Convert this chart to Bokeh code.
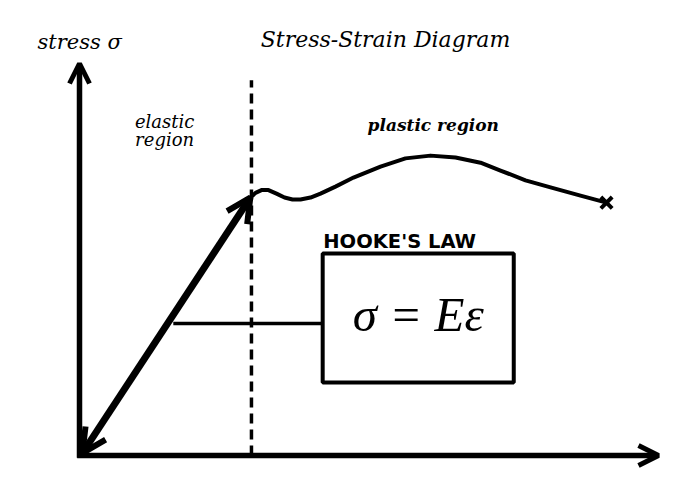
from bokeh.plotting import figure
from bokeh.models import Range1d, Arrow, OpenHead
from bokeh.core.properties import value
from bokeh.embed import file_html
from bokeh.resources import INLINE

# ---- data (strain / stress in arbitrary units) ----
axis_max_strain = 10.0
axis_max_stress = 10.0

elastic_strain = [0.05, 2.95]
elastic_stress = [0.06, 6.58]

plastic_strain = [2.953, 3.040, 3.143, 3.264, 3.402, 3.541, 3.679, 3.817, 3.990,
                  4.162, 4.421, 4.732, 5.199, 5.630, 6.062, 6.494, 6.926, 7.271,
                  7.703, 8.135, 8.653, 9.102]
plastic_stress = [6.58, 6.70, 6.77, 6.77, 6.68, 6.58, 6.53, 6.53, 6.58,
                  6.68, 6.86, 7.09, 7.37, 7.58, 7.65, 7.60, 7.47, 7.27,
                  7.02, 6.84, 6.63, 6.45]

fracture_strain = [9.102]
fracture_stress = [6.45]

yield_strain = 2.97
yield_line_stress = [0.0, 9.57]

connector_strain = [1.62, 4.20]
connector_stress = [3.37, 3.37]

box_left, box_right, box_bottom, box_top = [4.20], [7.50], [1.862], [5.153]

equation_text = ["σ = Eε"]
box_label = ["HOOKE'S LAW"]
title_text = ["Stress-Strain Diagram"]
ylabel_text = ["stress σ"]
elastic_label = ["elastic\nregion"]
plastic_label = ["plastic region"]

# ---- figure: 682x484, 57.9 px per strain unit, 39.2 px per stress unit ----
p = figure(width=682, height=484, output_backend="svg", toolbar_location=None,
           x_axis_location=None, y_axis_location=None, min_border=0,
           x_range=Range1d(-79 / 57.9, 603 / 57.9),
           y_range=Range1d(-29 / 39.2, 455 / 39.2))
p.grid.visible = False
p.outline_line_color = None
p.background_fill_color = "white"
p.border_fill_color = "white"

# axes with arrows
p.add_layout(Arrow(x_start=0, y_start=-0.06, x_end=0, y_end=axis_max_stress,
                   line_width=5.5, line_color="black",
                   end=OpenHead(size=20, line_width=5, line_color="black")))
p.add_layout(Arrow(x_start=-0.04, y_start=0, x_end=axis_max_strain, y_end=0,
                   line_width=5.5, line_color="black",
                   end=OpenHead(size=20, line_width=5, line_color="black")))

# yield dashed line
p.line([yield_strain, yield_strain], yield_line_stress, line_width=3.5,
       line_color="black", line_dash="10 6")

# elastic double arrow
p.add_layout(Arrow(x_start=elastic_strain[0], y_start=elastic_stress[0],
                   x_end=elastic_strain[1], y_end=elastic_stress[1],
                   line_width=7, line_color="black",
                   start=OpenHead(size=24, line_width=6, line_color="black"),
                   end=OpenHead(size=24, line_width=6, line_color="black")))

# plastic curve
p.line(plastic_strain, plastic_stress, line_width=4, line_color="black",
       line_join="round", line_cap="round")
p.scatter(fracture_strain, fracture_stress, marker="x", size=16,
          line_width=4, line_color="black")

# connector + box
p.line(connector_strain, connector_stress, line_width=3.5, line_color="black")
p.quad(left=box_left, right=box_right, bottom=box_bottom, top=box_top,
       fill_color="white", line_color="black", line_width=4)

p.text(x=[(box_left[0] + box_right[0]) / 2], y=[(box_bottom[0] + box_top[0]) / 2 + 0.08],
       text=equation_text, text_font=value("Liberation Serif"),
       text_font_style="italic", text_font_size="49px",
       text_align="center", text_baseline="middle", text_color="black")
p.text(x=[4.21], y=[5.46], text=box_label, text_font=value("DejaVu Sans"),
       text_font_style="bold", text_font_size="19.5px",
       text_align="left", text_baseline="middle", text_color="black")

# labels
p.text(x=[3.13], y=[10.61], text=title_text, text_font=value("DejaVu Serif"),
       text_font_style="italic", text_font_size="22px",
       text_align="left", text_baseline="middle", text_color="black")
p.text(x=[-0.725], y=[10.55], text=ylabel_text, text_font=value("DejaVu Serif"),
       text_font_style="italic", text_font_size="21px",
       text_align="left", text_baseline="middle", text_color="black")
p.text(x=[1.47], y=[8.29], text=elastic_label, text_font=value("DejaVu Serif"),
       text_font_style="italic", text_font_size="18px", text_line_height=0.9,
       text_align="center", text_baseline="middle", text_color="black")
p.text(x=[6.11], y=[8.42], text=plastic_label, text_font=value("DejaVu Serif"),
       text_font_style="bold italic", text_font_size="17px",
       text_align="center", text_baseline="middle", text_color="black")

open("out.html", "w").write(file_html(p, INLINE))
